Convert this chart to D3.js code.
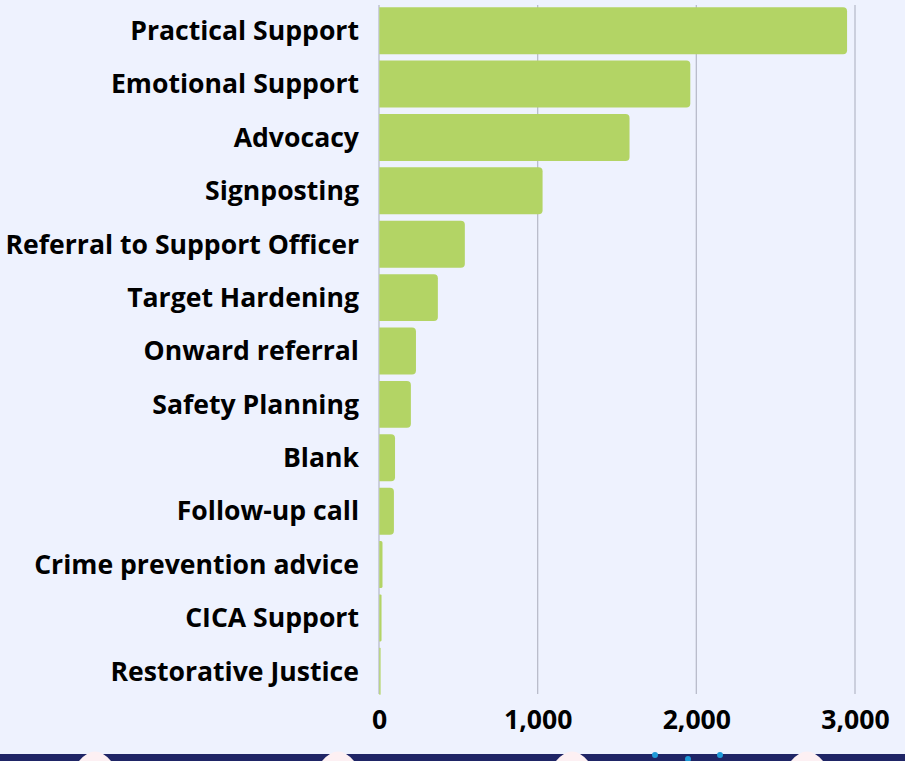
<!DOCTYPE html>
<html><head><meta charset="utf-8">
<script src="https://cdn.jsdelivr.net/npm/d3@7"></script>
<style>html,body{margin:0;padding:0;background:#eef2fe;overflow:hidden}svg{display:block}</style>
</head><body>
<svg id="c" width="905" height="761"></svg>
<script>
const categories = ["Practical Support","Emotional Support","Advocacy","Signposting","Referral to Support Officer","Target Hardening","Onward referral","Safety Planning","Blank","Follow-up call","Crime prevention advice","CICA Support","Restorative Justice"];
const values = [2950,1962,1579,1031,541,371,233,201,101,94,22,16,10];
const tickValues = [0,1000,2000,3000];

const W=905,H=761;
const svg=d3.select("#c");
svg.append("rect").attr("width",W).attr("height",H).attr("fill","#eef2fe");

const x=d3.scaleLinear().domain([0,3000]).range([379,855]);
const y=d3.scaleBand().domain(categories).range([4,698]).paddingInner(0.12).paddingOuter(0.06);

// gridlines
svg.append("g").selectAll("line").data(tickValues).join("line")
  .attr("x1",d=>x(d)).attr("x2",d=>x(d)).attr("y1",5).attr("y2",694)
  .attr("stroke","#b9bccb").attr("stroke-width",1.3);

// bars
svg.append("g").selectAll("path").data(values).join("path")
  .attr("fill","#b3d465")
  .attr("d",(d,i)=>{
    const x0=x(0)+0.3,x1=x(d),y0=y(categories[i]),h=y.bandwidth();
    const w=x1-x0; const r=Math.max(0,Math.min(4,w/2,h/2));
    return `M${x0},${y0}H${x1-r}Q${x1},${y0} ${x1},${y0+r}V${y0+h-r}Q${x1},${y0+h} ${x1-r},${y0+h}H${x0}Z`;
  });

// category labels
svg.append("g").selectAll("text").data(categories).join("text")
  .attr("x",359).attr("y",d=>y(d)+y.bandwidth()/2).attr("dy","0.35em")
  .attr("text-anchor","end").attr("font-family","'Open Sans', sans-serif")
  .attr("font-weight",700).attr("font-size",26.6).attr("fill","#000")
  .text(d=>d);

// x axis
const ax=d3.axisBottom(x).tickValues(tickValues).tickFormat(d3.format(",")).tickSize(0).tickPadding(0);
const g=svg.append("g").attr("transform","translate(0,710)").call(ax);
g.select(".domain").remove();
g.selectAll("text").attr("font-family","'Open Sans', sans-serif").attr("font-weight",700)
  .attr("font-size",26.6).attr("fill","#000").attr("dy","0.71em");

// decorative bottom band
svg.append("rect").attr("x",0).attr("y",754).attr("width",W).attr("height",7).attr("fill","#1f2566");
const peaks=[95,338,572,807];
svg.append("g").selectAll("path").data(peaks).join("path")
  .attr("d",p=>`M${p-16},761Q${p},742 ${p+16},761Z`).attr("fill","#fdf0f3");
svg.append("g").selectAll("circle").data([655,688,720]).join("circle")
  .attr("cx",d=>d).attr("cy",d=>d===688?759:755).attr("r",3).attr("fill","#1e9ad8");
</script>
</body></html>
